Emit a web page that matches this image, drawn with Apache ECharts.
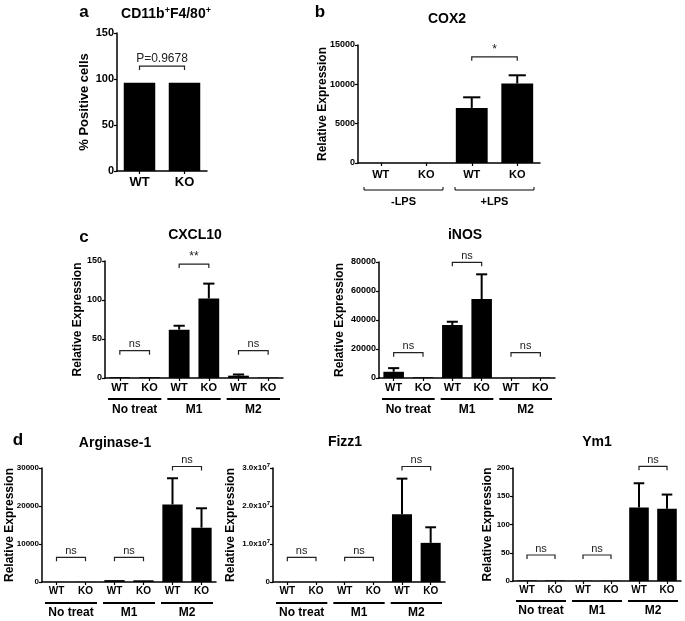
<!DOCTYPE html>
<html>
<head>
<meta charset="utf-8">
<script src="https://cdn.jsdelivr.net/npm/echarts@6/dist/echarts.min.js"></script>
<style>
  html, body { margin: 0; background: #fff; }
  #chart { width: 685px; height: 621px; }
</style>
</head>
<body>
<div id="chart"></div>
<script>
const FONT = '"Liberation Sans", Arial, sans-serif'

// categories
const pairCats = ['WT', 'KO']
const lpsCats = ['WT', 'KO', 'WT', 'KO']
const sixCats = ['WT', 'KO', 'WT', 'KO', 'WT', 'KO']
const lpsGroups = ['-LPS', '+LPS']
const treatGroups = ['No treat', 'M1', 'M2']

// a: CD11b+F4/80+
const cd11bTicks = [0, 50, 100, 150]
const cd11bMean = [96, 96]
const cd11bErr = [1, 0.8]
const cd11bSig = [[0, 1, 114, 'P=0.9678']]

// b: COX2
const cox2Ticks = [0, 5000, 10000, 15000]
const cox2Mean = [0, 0, 7000, 10100]
const cox2Err = [0, 0, 1350, 1050]
const cox2Sig = [[2, 3, 13500, '*']]

// c: CXCL10
const cxcl10Ticks = [0, 50, 100, 150]
const cxcl10Mean = [1, 1, 62, 102, 3, 0.5]
const cxcl10Err = [0.3, 0.3, 5, 19, 1.5, 0.2]
const cxcl10Sig = [[0, 1, 35, 'ns'], [2, 3, 146, '**'], [4, 5, 35, 'ns']]

// c: iNOS
const inosTicks = [0, 20000, 40000, 60000, 80000]
const inosMean = [4300, 500, 36500, 54500, 100, 250]
const inosErr = [2500, 200, 2300, 17000, 0, 60]
const inosSig = [[0, 1, 17500, 'ns'], [2, 3, 79800, 'ns'], [4, 5, 17500, 'ns']]

// d: Arginase-1
const arg1Ticks = [0, 10000, 20000, 30000]
const arg1Mean = [30, 30, 500, 450, 20400, 14300]
const arg1Err = [0, 0, 150, 150, 6900, 5100]
const arg1Sig = [[0, 1, 6500, 'ns'], [2, 3, 6500, 'ns'], [4, 5, 30400, 'ns']]

// d: Fizz1
const fizz1Ticks = [0, 1e7, 2e7, 3e7]
const fizz1Mean = [0, 0, 0, 0, 1.78e7, 1.03e7]
const fizz1Err = [0, 0, 0, 0, 9.4e6, 4.1e6]
const fizz1Sig = [[0, 1, 6.5e6, 'ns'], [2, 3, 6.5e6, 'ns'], [4, 5, 3.04e7, 'ns']]

// d: Ym1
const ym1Ticks = [0, 50, 100, 150, 200]
const ym1Mean = [1, 1, 0.5, 0.5, 130, 128]
const ym1Err = [0.5, 0.5, 0.2, 0.2, 43, 25]
const ym1Sig = [[0, 1, 46, 'ns'], [2, 3, 46, 'ns'], [4, 5, 203, 'ns']]

const grids = []
const xAxes = []
const yAxes = []
const series = []

function addPanel(p) {
  const idx = grids.length
  grids.push({ left: p.box[0], top: p.box[1], width: p.box[2], height: p.box[3], outerBoundsMode: 'none' })
  xAxes.push({
    gridIndex: idx,
    type: 'category',
    data: p.cats,
    axisLine: { lineStyle: { color: '#000', width: 1.5 } },
    axisTick: { show: true, alignWithLabel: true, length: 3, lineStyle: { color: '#000', width: 1.2 } },
    axisLabel: { color: '#000', fontFamily: FONT, fontWeight: 'bold', fontSize: p.catFont, margin: p.catMargin }
  })
  const t = p.ticks
  yAxes.push({
    gridIndex: idx,
    type: 'value',
    min: t[0],
    max: t[t.length - 1],
    interval: t[1] - t[0],
    name: p.yName,
    nameLocation: 'middle',
    nameGap: p.nameGap,
    nameMoveOverlap: false,
    nameTextStyle: { color: '#000', fontFamily: FONT, fontWeight: 'bold', fontSize: p.nameFont || 12 },
    axisLine: { show: true, lineStyle: { color: '#000', width: 1.5 } },
    axisTick: { show: true, length: 3, lineStyle: { color: '#000', width: 1.2 } },
    splitLine: { show: false },
    axisLabel: {
      color: '#000', fontFamily: FONT, fontWeight: 'bold', fontSize: p.tickFont, margin: 3,
      formatter: p.tickFormat || (v => String(v)),
      rich: p.tickRich
    }
  })

  series.push({
    type: 'bar', xAxisIndex: idx, yAxisIndex: idx,
    data: p.mean, barWidth: '70%',
    itemStyle: { color: '#000' }, silent: true
  })

  const err = p.err
  series.push({
    type: 'custom', xAxisIndex: idx, yAxisIndex: idx, silent: true, z: 3,
    data: p.mean.map((m, i) => [i, m, m + err[i]]),
    renderItem: function (params, api) {
      const i = api.value(0)
      const lo = api.coord([i, api.value(1)])
      const hi = api.coord([i, api.value(2)])
      if (lo[1] - hi[1] < 1) return null
      const half = api.size([1, 0])[0] * 0.7 * 0.27
      return {
        type: 'group',
        children: [
          { type: 'line', shape: { x1: lo[0], y1: lo[1], x2: hi[0], y2: hi[1] }, style: { stroke: '#000', lineWidth: 2 } },
          { type: 'line', shape: { x1: hi[0] - half, y1: hi[1], x2: hi[0] + half, y2: hi[1] }, style: { stroke: '#000', lineWidth: 2 } }
        ]
      }
    }
  })

  const sig = p.sig
  series.push({
    type: 'custom', xAxisIndex: idx, yAxisIndex: idx, silent: true, clip: false,
    data: sig.map(s => [s[0], s[1], s[2]]),
    renderItem: function (params, api) {
      const s = sig[params.dataIndex]
      const a = api.coord([api.value(0), api.value(2)])
      const b = api.coord([api.value(1), api.value(2)])
      const y = a[1]
      return {
        type: 'group',
        children: [
          { type: 'polyline', shape: { points: [[a[0], y + 4], [a[0], y], [b[0], y], [b[0], y + 4]] }, style: { stroke: '#222', lineWidth: 1.2, fill: null } },
          { type: 'text', x: (a[0] + b[0]) / 2, y: y - 1, style: { text: s[3], fill: '#222', font: (s[3] === 'ns' ? '11px ' : '12px ') + FONT, textAlign: 'center', textVerticalAlign: 'bottom' } }
        ]
      }
    }
  })

  if (p.groups) {
    const g = p.groups
    series.push({
      type: 'custom', xAxisIndex: idx, yAxisIndex: idx, silent: true, clip: false,
      data: g.map((name, k) => [2 * k, 2 * k + 1, 0]),
      renderItem: function (params, api) {
        const band = api.size([1, 0])[0]
        const a = api.coord([api.value(0), 0])
        const b = api.coord([api.value(1), 0])
        const x1 = a[0] - band / 2 + p.groupInset
        const x2 = b[0] + band / 2 - p.groupInset
        const ly = a[1] + p.groupLine
        const line = p.groupBracket
          ? { type: 'polyline', shape: { points: [[x1, ly - 3], [x1, ly], [x2, ly], [x2, ly - 3]] }, style: { stroke: '#000', lineWidth: 1, fill: null } }
          : { type: 'line', shape: { x1: x1, y1: ly, x2: x2, y2: ly }, style: { stroke: '#000', lineWidth: 2 } }
        return {
          type: 'group',
          children: [
            line,
            { type: 'text', x: (x1 + x2) / 2, y: a[1] + p.groupText, style: { text: g[params.dataIndex], fill: '#000', font: 'bold ' + p.groupFont + 'px ' + FONT, textAlign: 'center', textVerticalAlign: 'middle' } }
          ]
        }
      }
    })
  }
}

addPanel({ box: [117, 33, 90, 138], cats: pairCats, mean: cd11bMean, err: cd11bErr, sig: cd11bSig, ticks: cd11bTicks,
  tickFont: 11, catFont: 13, catMargin: 5, yName: '% Positive cells', nameGap: 26, nameFont: 13 })

addPanel({ box: [358, 45, 182, 118], cats: lpsCats, mean: cox2Mean, err: cox2Err, sig: cox2Sig, ticks: cox2Ticks,
  tickFont: 9, catFont: 11, catMargin: 6, yName: 'Relative Expression', nameGap: 29,
  groups: lpsGroups, groupInset: 6, groupLine: 27, groupText: 39, groupFont: 11, groupBracket: true })

addPanel({ box: [105, 261, 178, 117], cats: sixCats, mean: cxcl10Mean, err: cxcl10Err, sig: cxcl10Sig, ticks: cxcl10Ticks,
  tickFont: 9, catFont: 11, catMargin: 4, yName: 'Relative Expression', nameGap: 21,
  groups: treatGroups, groupInset: 3, groupLine: 21, groupText: 32, groupFont: 12 })

addPanel({ box: [379, 262, 176, 116], cats: sixCats, mean: inosMean, err: inosErr, sig: inosSig, ticks: inosTicks,
  tickFont: 9, catFont: 11, catMargin: 4, yName: 'Relative Expression', nameGap: 33,
  groups: treatGroups, groupInset: 3, groupLine: 21, groupText: 32, groupFont: 12 })

addPanel({ box: [42, 468, 174, 114], cats: sixCats, mean: arg1Mean, err: arg1Err, sig: arg1Sig, ticks: arg1Ticks,
  tickFont: 8, catFont: 10, catMargin: 4, yName: 'Relative Expression', nameGap: 26,
  groups: treatGroups, groupInset: 3, groupLine: 21, groupText: 31, groupFont: 12 })

addPanel({ box: [273, 468, 172, 114], cats: sixCats, mean: fizz1Mean, err: fizz1Err, sig: fizz1Sig, ticks: fizz1Ticks,
  tickFont: 8, catFont: 10, catMargin: 4, yName: 'Relative Expression', nameGap: 36,
  tickFormat: v => v === 0 ? '0' : '{m|' + (v / 1e7).toFixed(1) + 'x10}{s|7}',
  tickRich: { m: { fontSize: 8, fontWeight: 'bold', fontFamily: FONT, color: '#000' }, s: { fontSize: 6, fontFamily: FONT, color: '#000', verticalAlign: 'top', padding: [0, 0, 6, 0] } },
  groups: treatGroups, groupInset: 3, groupLine: 21, groupText: 31, groupFont: 12 })

addPanel({ box: [513, 468, 168, 113], cats: sixCats, mean: ym1Mean, err: ym1Err, sig: ym1Sig, ticks: ym1Ticks,
  tickFont: 8, catFont: 10, catMargin: 4, yName: 'Relative Expression', nameGap: 19,
  groups: treatGroups, groupInset: 3, groupLine: 20, groupText: 30, groupFont: 12 })

function label(text, x, y, size) {
  return { type: 'text', x: x, y: y, style: { text: text, fill: '#000', font: 'bold ' + size + 'px ' + FONT, textAlign: 'center', textVerticalAlign: 'middle' } }
}

const graphics = [
  label('a', 84, 12, 17),
  {
    type: 'text', x: 166, y: 14,
    style: {
      text: '{t|CD11b}{s|+}{t|F4/80}{s|+}',
      textAlign: 'center', textVerticalAlign: 'middle',
      rich: {
        t: { fontFamily: FONT, fontWeight: 'bold', fontSize: 14, fill: '#000' },
        s: { fontFamily: FONT, fontWeight: 'bold', fontSize: 9, fill: '#000', verticalAlign: 'top', padding: [0, 0, 6, 0] }
      }
    }
  },
  label('b', 320, 12, 17),
  label('COX2', 447, 19, 14),
  label('c', 84, 237, 17),
  label('CXCL10', 195, 235, 14),
  label('iNOS', 465, 235, 14),
  label('d', 18, 440, 17),
  label('Arginase-1', 115, 443, 14),
  label('Fizz1', 345, 442, 14),
  label('Ym1', 597, 442, 14)
]

const chart = echarts.init(document.getElementById('chart'))
chart.setOption({
  animation: false,
  backgroundColor: '#fff',
  grid: grids,
  xAxis: xAxes,
  yAxis: yAxes,
  series: series,
  graphic: graphics
})
</script>
</body>
</html>
